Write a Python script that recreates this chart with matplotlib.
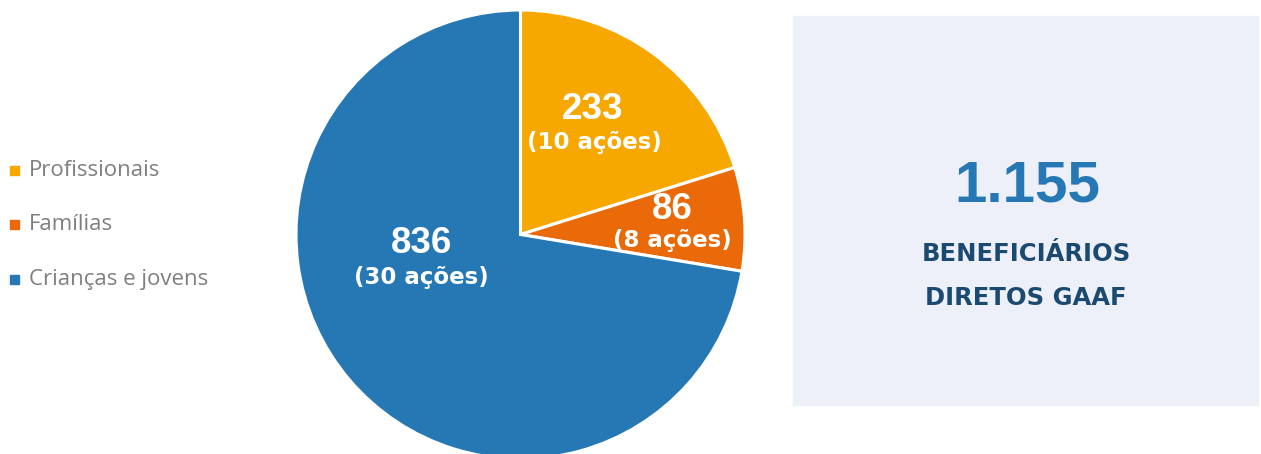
import matplotlib.pyplot as plt
from matplotlib.patches import Rectangle

# dados
categorias = ['Profissionais', 'Famílias', 'Crianças e jovens']
beneficiarios = [233, 86, 836]
acoes = [10, 8, 30]
cores = ['#F6A800', '#EA6A0A', '#2678B5']
total_txt = '1.155'

W, H = 1261, 454
fig = plt.figure(figsize=(W / 100, H / 100), dpi=100)

# pizza (centro ~ (520, 234), raio ~ 224 px)
cx, cy, r = 520.5, 234.5, 224.5
ax = fig.add_axes([(cx - r) / W, (H - cy - r) / H, 2 * r / W, 2 * r / H])
ax.pie(beneficiarios, colors=cores, startangle=90, counterclock=False, radius=1,
       wedgeprops=dict(edgecolor='white', linewidth=2.2))
ax.set_xlim(-1, 1)
ax.set_ylim(-1, 1)
ax.set_aspect('equal')
ax.axis('off')

# rótulos (posição em coordenadas da pizza)
pos_num = [(0.32, 0.555), (0.675, 0.11), (-0.44, -0.04)]
pos_sub = [(0.33, 0.41), (0.675, -0.025), (-0.44, -0.19)]
for v, a, (xn, yn), (xs, ys) in zip(beneficiarios, acoes, pos_num, pos_sub):
    ax.text(xn, yn, str(v), ha='center', va='center', color='white',
            fontsize=26.5, fontweight='bold', family='Liberation Sans')
    ax.text(xs, ys, f'({a} ações)', ha='center', va='center', color='white',
            fontsize=16.5, fontweight='bold', family='DejaVu Sans')

# legenda
leg_y = [170, 224, 279]
for cat, cor, y in zip(categorias, cores, leg_y):
    fig.patches.append(Rectangle((10 / W, (H - y - 5) / H), 9 / W, 9 / H,
                                 transform=fig.transFigure, color=cor))
    fig.text(29 / W, 1 - y / H, cat, ha='left', va='center', color='#7F7F7F',
             fontsize=16, family='Open Sans')

# caixa da direita
fig.patches.append(Rectangle((793 / W, (H - 405) / H), 465 / W, 389 / H,
                             transform=fig.transFigure, color='#EDF0F8', zorder=0))
fig.text(1027 / W, 1 - 187 / H, total_txt, ha='center', va='center', color='#2678B5',
         fontsize=42, fontweight='bold', family='Liberation Sans')
fig.text(1026 / W, 1 - 254 / H, 'BENEFICIÁRIOS', ha='center', va='center',
         color='#1B4A70', fontsize=17.5, fontweight='bold', family='DejaVu Sans')
fig.text(1026 / W, 1 - 298 / H, 'DIRETOS GAAF', ha='center', va='center',
         color='#1B4A70', fontsize=17.5, fontweight='bold', family='DejaVu Sans')

fig.savefig('out.png', dpi=100)
